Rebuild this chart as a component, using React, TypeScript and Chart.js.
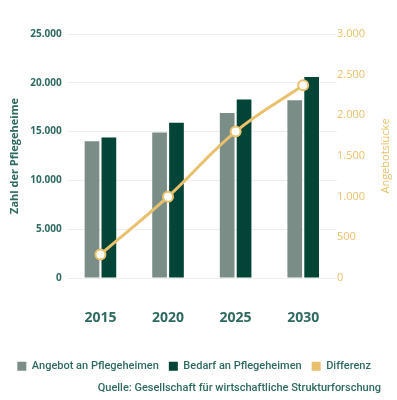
import React, { useEffect, useRef } from "react";
import { Chart, registerables } from "chart.js";

Chart.register(...registerables);

const years = ["2015", "2020", "2025", "2030"];
const angebot = [14000, 14900, 16900, 18200];
const bedarf = [14400, 15900, 18300, 20600];
const differenz = [290, 1000, 1800, 2370];

const leftTicks = [0, 5000, 10000, 15000, 20000, 25000];
const rightTicks = [0, 500, 1000, 1500, 2000, 2500, 3000];

const TEAL = "#2E6A61";
const GREY = "#7A8E87";
const DARK = "#024537";
const GOLD = "#E9C06B";
const FONT = "'Open Sans', sans-serif";
const FONT2 = "Roboto, sans-serif";
const RIGHT_TITLE = "Angebotslücke";

const fmt = (v: number) => String(v).replace(/\B(?=(\d{3})+(?!\d))/g, ".");

const rightTitlePlugin = {
  id: "rightTitle",
  afterDraw(chart: any) {
    const { ctx, chartArea } = chart;
    ctx.save();
    ctx.translate(386, (chartArea.top + chartArea.bottom) / 2);
    ctx.rotate(-Math.PI / 2);
    ctx.font = `11px ${FONT}`;
    ctx.fillStyle = GOLD;
    ctx.textAlign = "center";
    ctx.textBaseline = "middle";
    ctx.fillText(RIGHT_TITLE, 0, 0);
    ctx.restore();
  },
};

export default function App() {
  const ref = useRef<HTMLCanvasElement | null>(null);

  useEffect(() => {
    document.body.style.margin = "0";
    if (!ref.current) return;
    const chart = new Chart(ref.current, {
      type: "bar",
      plugins: [rightTitlePlugin],
      data: {
        labels: years,
        datasets: [
          {
            type: "bar",
            label: "Angebot an Pflegeheimen",
            data: angebot,
            backgroundColor: GREY,
            yAxisID: "y",
            order: 2,
            barPercentage: 0.87,
            categoryPercentage: 0.5,
          },
          {
            type: "bar",
            label: "Bedarf an Pflegeheimen",
            data: bedarf,
            backgroundColor: DARK,
            yAxisID: "y",
            order: 2,
            barPercentage: 0.87,
            categoryPercentage: 0.5,
          },
          {
            type: "line",
            label: "Differenz",
            data: differenz,
            borderColor: GOLD,
            backgroundColor: GOLD,
            borderWidth: 3,
            tension: 0.4,
            pointRadius: 5,
            pointBorderWidth: 2,
            pointBackgroundColor: "#ffffff",
            pointBorderColor: GOLD,
            yAxisID: "y1",
            order: 0,
          },
        ],
      },
      options: {
        responsive: false,
        animation: false,
        layout: { padding: { top: 34, left: 4, right: 16, bottom: 5 } },
        plugins: {
          tooltip: { enabled: false },
          legend: {
            position: "bottom",
            align: "end",
            labels: {
              color: TEAL,
              font: { family: FONT2, size: 11, weight: 500 },
              boxWidth: 9,
              boxHeight: 9,
              padding: 10,
              generateLabels: (chart: any) =>
                chart.data.datasets.map((ds: any, i: number) => ({
                  text: ds.label,
                  fillStyle: ds.backgroundColor,
                  strokeStyle: ds.backgroundColor,
                  lineWidth: 0,
                  fontColor: TEAL,
                  hidden: false,
                  datasetIndex: i,
                })),
            },
          },
          title: {
            display: true,
            position: "bottom",
            align: "end",
            text: "Quelle: Gesellschaft für wirtschaftliche Strukturforschung",
            color: TEAL,
            font: { family: FONT2, size: 11, weight: 500 },
            padding: { top: 0, bottom: 0 },
          },
        },
        scales: {
          x: {
            grid: { display: false },
            border: { display: false },
            ticks: {
              color: TEAL,
              padding: 24,
              font: { family: FONT, size: 14, weight: "bold" },
            },
          },
          y: {
            position: "left",
            min: 0,
            max: 25000,
            afterBuildTicks: (axis: any) => {
              axis.ticks = leftTicks.map((v) => ({ value: v }));
            },
            grid: { color: "#EEEEEE", drawTicks: false },
            border: { display: false },
            ticks: {
              color: TEAL,
              padding: 5,
              font: { family: FONT, size: 10, weight: "bold" },
              callback: (v: any) => fmt(Number(v)),
            },
            title: {
              display: true,
              text: "Zahl der Pflegeheime",
              color: TEAL,
              font: { family: FONT, size: 11, weight: "bold" },
              padding: { top: 4, bottom: 4 },
            },
          },
          y1: {
            position: "right",
            min: 0,
            max: 3000,
            afterBuildTicks: (axis: any) => {
              axis.ticks = rightTicks.map((v) => ({ value: v }));
            },
            afterFit: (axis: any) => {
              axis.width = 44;
            },
            grid: { display: false, drawTicks: false },
            border: { display: false },
            ticks: {
              color: GOLD,
              padding: 0,
              font: { family: FONT, size: 11 },
              callback: (v: any) => fmt(Number(v)),
            },
          },
        },
      },
    });
    return () => chart.destroy();
  }, []);

  return <canvas ref={ref} width={397} height={400} style={{ display: "block" }} />;
}
